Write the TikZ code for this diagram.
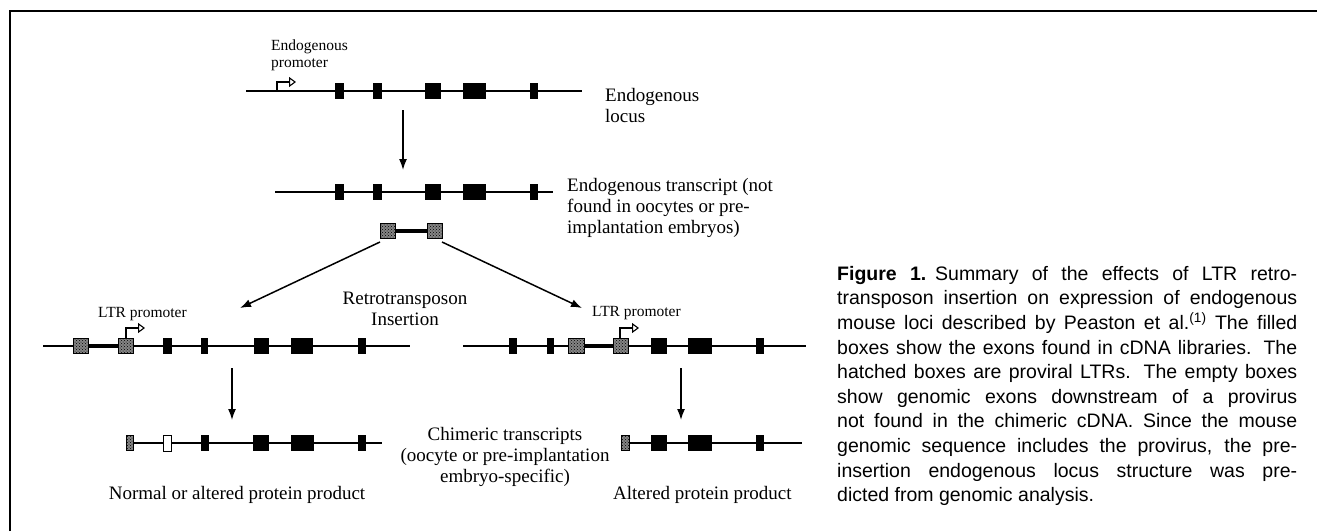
\documentclass[tikz,border=0pt]{standalone}
\usepackage{fontspec}
\setmainfont{Liberation Serif}
\newfontfamily\capfont{Liberation Sans}
\usetikzlibrary{arrows.meta,patterns}
\newcommand\myexons[2]{\foreach \a/\b in {#2}{\fill[exon] (\a,#1-8) rectangle (\b,#1+8);}}
\newcommand\myltrs[2]{\foreach \a/\b in {#2}{\path[ltrbox] (\a,#1-7.5) rectangle (\b,#1+7.5);}}
\begin{document}
\begin{tikzpicture}[x=1pt,y=-1pt,
 exon/.style={fill=black},
 ltrbox/.style={draw=black,line width=0.8pt,preaction={fill=black!48},pattern=crosshatch dots,pattern color=black},
 emptybox/.style={draw=black,line width=1pt,fill=white},
 gene/.style={line width=1.4pt},
 ltrlink/.style={line width=3.6pt},
 arr/.style={line width=1.5pt,-{Latex[length=11pt,width=8pt]}},
 prom/.style={line width=1.2pt,-{Triangle[open,length=7pt,width=10pt,line width=1.1pt]}},
 lbl/.style={font=\fontsize{19}{21}\selectfont,inner sep=0pt},
 sml/.style={font=\fontsize{15.5}{17}\selectfont,inner sep=0pt},
 frame/.style={line width=2.4pt}]
\useasboundingbox (0,0) rectangle (1317,531);
% frame
\coordinate (fbl) at (10,531);
\coordinate (ftl) at (10,11);
\coordinate (ftr) at (1317,11);
\draw[frame] (fbl) -- (ftl) -- (ftr);

% row 1: endogenous locus
\draw[gene] (246,91) -- (582,91);
\myexons{91}{335/344,373/382,425/441,463/486,530/538}
\draw[prom] (277,91) -- (277,82) -- (296,82);
\node[sml,anchor=north west,align=left] (eprom) at (271,40) {Endogenous\\promoter};
\node[lbl,anchor=west,align=left] (eloc) at (605,105) {Endogenous\\locus};

% arrow 1
\coordinate (a1s) at (403,110);
\coordinate (a1e) at (403,170);
\draw[arr] (a1s) -- (a1e);

% row 2: endogenous transcript
\draw[gene] (275,192) -- (553,192);
\myexons{192}{335/344,373/382,425/441,463/486,530/538}
\node[lbl,anchor=west,align=left] (etr) at (567,208) {Endogenous transcript (not\\found in oocytes or pre-\\implantation embryos)};

% retrotransposon
\draw[ltrlink] (395,231) -- (427,231);
\myltrs{231}{380/395,427/442}
\coordinate (ltrL) at (380,242);
\coordinate (ltrR) at (442,242);
\coordinate (locL) at (240,308);
\coordinate (locR) at (582,308);
\draw[arr] (ltrL) -- (locL);
\draw[arr] (ltrR) -- (locR);
\node[lbl,align=center] (ins) at (405,309) {Retrotransposon\\Insertion};

% row 3 left
\draw[gene] (43,346) -- (410,346);
\draw[ltrlink] (88,346) -- (118,346);
\myltrs{346}{73/88,118/133}
\myexons{346}{163/172,201/208,254/269,291/313,358/366}
\draw[prom] (126,338.5) -- (126,328) -- (145,328);
\node[sml,anchor=west] (lprL) at (98,314) {LTR promoter};

% row 3 right
\draw[gene] (463,346) -- (806,346);
\draw[ltrlink] (584,346) -- (613,346);
\myltrs{346}{568/584,613/628}
\myexons{346}{509/517,547/554,651/667,688/712,756/764}
\draw[prom] (620,338.5) -- (620,328) -- (639,328);
\node[sml,anchor=west] (lprR) at (592,313) {LTR promoter};

% down arrows
\coordinate (dLs) at (232,368);
\coordinate (dLe) at (232,420);
\coordinate (dRs) at (681,368);
\coordinate (dRe) at (681,420);
\draw[arr] (dLs) -- (dLe);
\draw[arr] (dRs) -- (dRe);

% row 4 left
\draw[gene] (133,443) -- (382,443);
\myltrs{443}{126/133}
\path[emptybox] (163.5,435) rectangle (171.5,451);
\myexons{443}{201/209,253/269,291/314,358/366}

% row 4 right
\draw[gene] (629,443) -- (802,443);
\myltrs{443}{621/629}
\myexons{443}{651/667,688/712,756/764}

\node[lbl,align=center] (chim) at (505,457) {Chimeric transcripts\\(oocyte or pre-implantation\\embryo-specific)};
\node[lbl] (nprot) at (237,495) {Normal or altered protein product};
\node[lbl,anchor=west] (aprot) at (613,495) {Altered protein product};

% caption
\node[anchor=north west,inner sep=0pt,text width=460pt,align=justify,
  font=\capfont\fontsize{19.5}{24.6}\selectfont] (cap) at (837,266)
{\hyphenpenalty=10000\tolerance=10000{\bfseries Figure 1.}\hspace{0.45em}Summary of the effects of LTR retro-\linebreak
transposon insertion on expression of endogenous\linebreak
mouse loci described by Peaston et al.\textsuperscript{(1)} The filled\linebreak
boxes show the exons found in cDNA libraries. The\linebreak
hatched boxes are proviral LTRs. The empty boxes\linebreak
show genomic exons downstream of a provirus\linebreak
not found in the chimeric cDNA. Since the mouse\linebreak
genomic sequence includes the provirus, the pre-\linebreak
insertion endogenous locus structure was pre-\linebreak
dicted from genomic analysis.};
\end{tikzpicture}
\end{document}
